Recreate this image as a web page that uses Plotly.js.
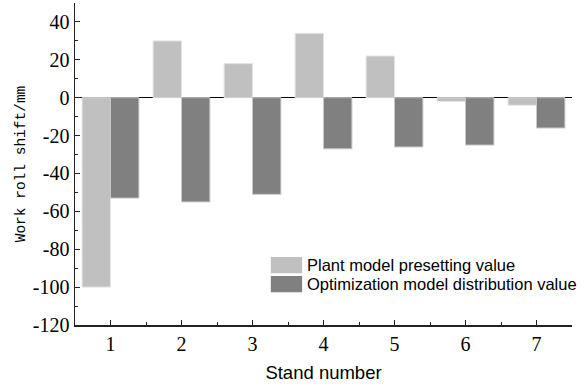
<!DOCTYPE html>
<html>
<head>
<meta charset="utf-8">
<script src="https://cdn.plot.ly/plotly-3.0.1.min.js"></script>
<style>html,body{margin:0;padding:0;background:#fff;}#chart{width:585px;height:387px;}</style>
</head>
<body>
<div id="chart"></div>
<script>
const stands = [1, 2, 3, 4, 5, 6, 7];
const plantPreset = [-100, 30, 18, 34, 22, -2, -4];
const optimDistribution = [-53, -55, -51, -27, -26, -25, -16];
const seriesNames = ['Plant model presetting value', 'Optimization model distribution value'];
const seriesColors = ['#c0c0c0', '#808080'];
const yTicks = [-120, -100, -80, -60, -40, -20, 0, 20, 40];
const yTickText = ['-120', '-100', '-80', '-60', '-40', '-20', '0', '20', '40'];

const traces = [
  {type: 'bar', x: stands, y: plantPreset, name: seriesNames[0],
   marker: {color: seriesColors[0], line: {color: '#e4e4e4', width: 1}}},
  {type: 'bar', x: stands, y: optimDistribution, name: seriesNames[1],
   marker: {color: seriesColors[1], line: {color: '#c8c8c8', width: 1}}}
];

// manual legend (large rectangular swatches like the original)
const legendRows = [{y0: 0.161, y1: 0.211, ty: 0.186}, {y0: 0.102, y1: 0.152, ty: 0.127}];
const shapes = legendRows.map((r, i) => ({
  type: 'rect', xref: 'paper', yref: 'paper', x0: 0.394, x1: 0.457, y0: r.y0, y1: r.y1,
  fillcolor: seriesColors[i], line: {width: 0}
}));
const annotations = legendRows.map((r, i) => ({
  xref: 'paper', yref: 'paper', x: 0.462, y: r.ty, xanchor: 'left', yanchor: 'middle',
  text: seriesNames[i], showarrow: false,
  font: {family: 'Liberation Sans, Arial, sans-serif', size: 16.5, color: '#000'}
}));

const layout = {
  width: 585, height: 387,
  margin: {l: 75, r: 13, t: 3, b: 62},
  paper_bgcolor: '#fff', plot_bgcolor: '#fff',
  barmode: 'group', bargap: 0.2, bargroupgap: 0,
  showlegend: false,
  shapes: shapes, annotations: annotations,
  xaxis: {range: [0.5, 7.5], tickvals: stands, ticktext: stands.map(String),
          ticks: 'inside', ticklen: 5, tickcolor: '#222', showline: true, linecolor: '#222', linewidth: 1.5,
          showgrid: false, zeroline: false, mirror: false,
          minor: {dtick: 0.5, ticks: 'inside', ticklen: 3, tickcolor: '#222'},
          tickfont: {family: 'Liberation Serif', size: 20, color: '#000'},
          title: {text: 'Stand number', font: {family: 'Liberation Sans', size: 18.5, color: '#000'}, standoff: 12}},
  yaxis: {range: [-120, 50], tickvals: yTicks, ticktext: yTickText,
          ticks: 'inside', ticklen: 5, tickcolor: '#222', showline: true, linecolor: '#222', linewidth: 1.5,
          showgrid: false, zeroline: true, zerolinecolor: '#000', zerolinewidth: 1.5,
          minor: {dtick: 10, ticks: 'inside', ticklen: 3, tickcolor: '#222'},
          tickfont: {family: 'Liberation Serif', size: 20, color: '#000'},
          title: {text: 'Work roll shift/mm', font: {family: 'Liberation Mono', size: 14.5, color: '#000'}, standoff: 4}}
};

Plotly.newPlot('chart', traces, layout, {displayModeBar: false, staticPlot: true});
</script>
</body>
</html>
